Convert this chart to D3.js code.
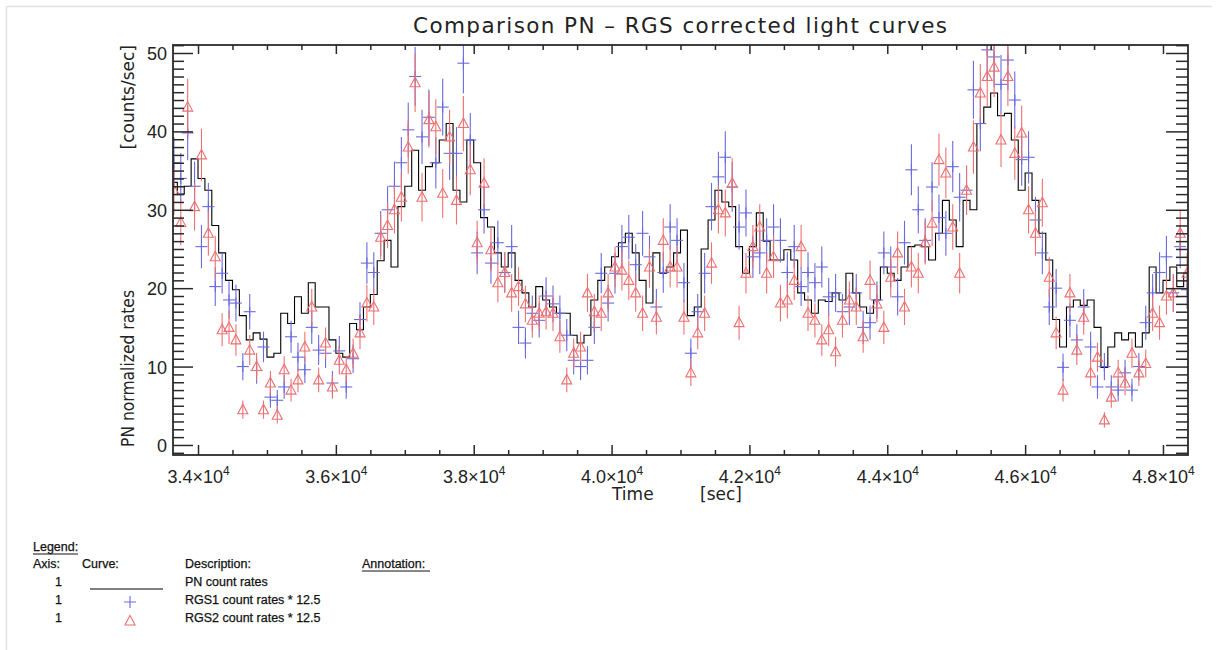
<!DOCTYPE html>
<html>
<head>
<meta charset="utf-8">
<script src="https://cdn.jsdelivr.net/npm/d3@7"></script>
<style>
  body { margin: 0; background: #fff; }
  svg { display: block; }
</style>
</head>
<body>
<svg id="chart"></svg>
<script>
// Light curves, 100 s bins starting at t = 33650 s
const T_START = 33650;
const BIN = 100;

// PN count rates (black line)
const pnRate = [
  33.5, 32, 33, 36.5, 34, 32.5, 28, 24.5, 21, 19.8,
  16.5, 13.4, 14.3, 13.5, 11.2, 11.7, 16.8, 15.5, 18.9, 16.8,
  20.7, 17.6, 17.6, 13.4, 11.7, 11.2, 15.5, 14.7, 17.6, 19.2,
  23.5, 26.1, 22.7, 30.4, 33, 37.6, 32.5, 35.5, 36, 38.9,
  41, 32.5, 31, 38.9, 36, 29, 27.8, 24.5, 22.7, 24.5,
  21, 19.4, 17.6, 20.2, 18.5, 17.6, 16.8, 16.8, 14, 13,
  14, 18.5, 21, 22.7, 24, 25.8, 27, 24.5, 21, 18.1,
  24.5, 21.9, 22.7, 24.5, 27.4, 16.5, 17.6, 25, 28.7, 32.5,
  31, 30.4, 25.3, 21.9, 25.3, 29.6, 26, 23.6, 23.6, 24.9,
  23.6, 19.4, 18.5, 16.8, 18.5, 18.3, 19.4, 18.5, 21.9, 19.4,
  17.6, 16.8, 18.5, 22.7, 21.9, 21, 22.7, 25.3, 25.5, 25.3,
  23.6, 27, 31.2, 28.7, 25.3, 31.2, 30, 41, 43.1, 44.9,
  42, 42.3, 38.9, 32.5, 34.7, 31.2, 27, 23.6, 16, 12.5,
  17.6, 18.5, 17.8, 18.5, 15, 9.9, 12.5, 14.3, 13.4, 14.3,
  12.5, 14.3, 22.7, 19.4, 21, 22.7, 20.2, 21.9
];

// RGS1 count rates * 12.5 (blue crosses)
const rgs1Rate = [
  36, 34, 39.8, 33, 25.3, 30.4, 20.2, 21.9, 18.5, 18.1,
  10, 17, 9.5, 12.5, 6.1, 5.7, 7.4, 13.8, 11.2, 9.6,
  15, 12.1, 11.7, 7.9, 12, 7.4, 11, 16, 23.2, 22,
  27, 30, 33, 36, 40.2, 47, 39.3, 41.8, 36, 43.1,
  37.2, 37.2, 48.7, 38.9, 24.5, 30, 23.2, 25.8, 22, 25.3,
  15, 13, 16.8, 15.9, 19, 18, 16.8, 14, 10.8, 10,
  10.8, 15, 21.9, 18.1, 21.9, 25.3, 26.5, 23, 27, 24,
  17.6, 22, 27.8, 26.1, 20.7, 11.7, 17, 21.9, 30.4, 34.2,
  36.7, 32.9, 27.8, 29.6, 24, 24.5, 26.1, 27.8, 26.1, 22,
  25.3, 20.2, 22, 20.7, 22.7, 18.9, 19.4, 17, 17.6, 19.4,
  15, 15.6, 18.5, 24.5, 22.7, 18.9, 25.8, 35.1, 30, 26.1,
  32.9, 29, 27, 35.5, 31.6, 32.5, 45.3, 41, 50.4, 49.5,
  46, 49.1, 44, 36.4, 36.7, 28.7, 24.5, 17.6, 20, 9.9,
  15.9, 13.4, 17.6, 12.5, 7.4, 10, 7.4, 7, 9.2, 7,
  10, 15.6, 19.4, 22, 24, 19.4, 25.3, 19.8
];

// RGS2 count rates * 12.5 (red triangles)
const rgs2Rate = [
  32.5, 28.4, 43.1, 30.4, 37, 27, 24, 14.7, 15, 13.4,
  4.5, 12.1, 10, 4.5, 7.9, 3.8, 9.6, 7.0, 8.3, 12.5,
  17.6, 8.3, 13, 7.4, 10.8, 9.6, 11.7, 14.3, 18.1, 17.6,
  26.5, 28, 30, 31.6, 38, 46.2, 31.6, 41.5, 40.6, 32.1,
  39.3, 31.2, 41, 35.1, 25.8, 33.4, 24.9, 20.7, 22, 19.4,
  20.2, 18, 15.9, 16.8, 17, 16.8, 13.8, 8.3, 11.7, 12.5,
  19.4, 17, 16.8, 19.4, 22.7, 22.3, 21, 19.4, 16.8, 22.7,
  16.3, 26.1, 22.7, 22.7, 16.3, 9.2, 14.3, 16.8, 23.2, 30,
  29.6, 33.4, 15.6, 21.9, 25.3, 27.8, 21.9, 24, 18.1, 18.5,
  21, 25.3, 16.8, 15.9, 13.4, 14.7, 11.9, 15.9, 18.5, 17.6,
  13.8, 21, 18, 15, 21.4, 24.5, 17.6, 22.7, 21.9, 25.8,
  28.3, 36.4, 34.7, 27.8, 21.9, 32.5, 38, 44.9, 47, 48.2,
  38.9, 47, 37.2, 39.8, 30, 27, 30.9, 21.4, 14.3, 7,
  19.4, 12.1, 16.3, 9.2, 11.2, 3.2, 6.1, 9.2, 7.9, 11.7,
  9.2, 10.4, 16.8, 15.6, 19, 19.4, 27, 21.9
];

// Poisson-like 1-sigma error factor for the RGS points
const RGS_ERR_K = 0.55;

const xMajorTicks = [34000, 36000, 38000, 40000, 42000, 44000, 46000, 48000];
const xTickMantissa = ['3.4', '3.6', '3.8', '4.0', '4.2', '4.4', '4.6', '4.8'];
const yMajorTicks = [0, 10, 20, 30, 40, 50];

const legendRows = [
  { axis: '1', kind: 'line', text: 'PN count rates' },
  { axis: '1', kind: 'plus', text: 'RGS1 count rates * 12.5' },
  { axis: '1', kind: 'tri', text: 'RGS2 count rates * 12.5' },
];

const BLUE = '#6a6ade';
const RED = '#ee7070';
const AXIS = '#2a2a2a';

const W = 1217, H = 650;
const plotL = 173, plotR = 1188, plotT = 45, plotB = 455;

const svg = d3.select('#chart').attr('width', W).attr('height', H)
  .style('font-family', '"DejaVu Sans", sans-serif');

// faint page frame
svg.append('line').attr('x1', 7).attr('x2', 1212).attr('y1', 6.5).attr('y2', 6.5)
  .attr('stroke', '#e2e2e2').attr('stroke-width', 1.5);
svg.append('line').attr('x1', 6.5).attr('x2', 6.5).attr('y1', 6).attr('y2', H)
  .attr('stroke', '#e2e2e2').attr('stroke-width', 1.5);

const x = d3.scaleLinear().domain([33637, 48363]).range([plotL, plotR]);
const y = d3.scaleLinear().domain([-1.28, 51.02]).range([plotB, plotT]);

const times = pnRate.map((_, i) => T_START + i * BIN);

svg.append('clipPath').attr('id', 'plotClip')
  .append('rect').attr('x', plotL).attr('y', plotT)
  .attr('width', plotR - plotL).attr('height', plotB - plotT);

const plot = svg.append('g').attr('clip-path', 'url(#plotClip)');

// PN line (histogram steps)
plot.append('path')
  .datum(pnRate)
  .attr('fill', 'none').attr('stroke', '#000').attr('stroke-width', 1.1)
  .attr('d', d3.line().x((d, i) => x(times[i])).y(d => y(d)).curve(d3.curveStep));

// RGS1 crosses with error bars
const g1 = plot.append('g').attr('stroke', BLUE).attr('stroke-width', 1.1).attr('fill', 'none');
rgs1Rate.forEach((v, i) => {
  const cx = x(times[i]), cy = y(v), e = RGS_ERR_K * Math.sqrt(v);
  g1.append('line').attr('x1', cx).attr('x2', cx).attr('y1', y(v - e)).attr('y2', y(v + e));
  g1.append('line').attr('x1', cx).attr('x2', cx).attr('y1', cy - 5.5).attr('y2', cy + 5.5);
  g1.append('line').attr('x1', cx - 6).attr('x2', cx + 6).attr('y1', cy).attr('y2', cy);
});

// RGS2 triangles with error bars
const triPath = (cx, cy) => `M${cx - 5},${cy + 4}L${cx + 5},${cy + 4}L${cx},${cy - 5.5}Z`;
const g2 = plot.append('g').attr('stroke', RED).attr('stroke-width', 1.1).attr('fill', 'none');
rgs2Rate.forEach((v, i) => {
  const cx = x(times[i]), cy = y(v), e = RGS_ERR_K * Math.sqrt(v);
  g2.append('line').attr('x1', cx).attr('x2', cx).attr('y1', y(v - e)).attr('y2', y(v + e));
  g2.append('path').attr('d', triPath(cx, cy));
});

// Axes
const yMinor = d3.range(-1, 52).filter(v => v % 10 !== 0);
const xMinor = d3.range(34000, 48001, 500).filter(v => v % 2000 !== 0);

function styleAxis(sel) {
  sel.select('.domain').remove();
  sel.selectAll('.tick line').attr('stroke', AXIS).attr('stroke-width', 1.5);
}

svg.append('g').attr('transform', `translate(${plotL},0)`)
  .call(d3.axisLeft(y).tickValues(yMinor).tickSizeInner(-11).tickSizeOuter(0).tickFormat(''))
  .call(styleAxis);
svg.append('g').attr('transform', `translate(${plotL},0)`)
  .call(d3.axisLeft(y).tickValues(yMajorTicks).tickSizeInner(-20).tickSizeOuter(0).tickPadding(6))
  .call(styleAxis)
  .selectAll('text').attr('font-size', 18).attr('fill', '#222').attr('dy', '0.36em');

svg.append('g').attr('transform', `translate(${plotR},0)`)
  .call(d3.axisRight(y).tickValues(yMinor).tickSizeInner(-12).tickSizeOuter(0).tickFormat(''))
  .call(styleAxis);
svg.append('g').attr('transform', `translate(${plotR},0)`)
  .call(d3.axisRight(y).tickValues(yMajorTicks).tickSizeInner(-22).tickSizeOuter(0).tickFormat(''))
  .call(styleAxis);

svg.append('g').attr('transform', `translate(0,${plotB})`)
  .call(d3.axisBottom(x).tickValues(xMinor).tickSizeInner(-5).tickSizeOuter(0).tickFormat(''))
  .call(styleAxis);
const xAx = svg.append('g').attr('transform', `translate(0,${plotB})`)
  .call(d3.axisBottom(x).tickValues(xMajorTicks).tickSizeInner(-10).tickSizeOuter(0).tickFormat(''))
  .call(styleAxis);
xAx.selectAll('.tick').each(function (d, i) {
  const t = d3.select(this).select('text')
    .attr('y', 28).attr('dy', 0).attr('font-size', 18).attr('fill', '#222')
    .attr('text-anchor', 'middle');
  t.append('tspan').text(xTickMantissa[i] + '×10');
  t.append('tspan').attr('dy', -8).attr('font-size', 12).text('4');
});

svg.append('g').attr('transform', `translate(0,${plotT})`)
  .call(d3.axisTop(x).tickValues(xMinor).tickSizeInner(-5).tickSizeOuter(0).tickFormat(''))
  .call(styleAxis);
svg.append('g').attr('transform', `translate(0,${plotT})`)
  .call(d3.axisTop(x).tickValues(xMajorTicks).tickSizeInner(-9).tickSizeOuter(0).tickFormat(''))
  .call(styleAxis);

// frame
svg.append('rect').attr('x', plotL).attr('y', plotT)
  .attr('width', plotR - plotL).attr('height', plotB - plotT)
  .attr('fill', 'none').attr('stroke', AXIS).attr('stroke-width', 1.8);

// Titles
svg.append('text').attr('x', 680).attr('y', 33).attr('text-anchor', 'middle')
  .attr('font-size', 21.5).attr('fill', '#222')
  .attr('textLength', 534).attr('lengthAdjust', 'spacing')
  .text('Comparison PN – RGS corrected light curves');

svg.append('text').attr('x', 612).attr('y', 500).attr('font-size', 17).attr('fill', '#222')
  .text('Time');
svg.append('text').attr('x', 700).attr('y', 500).attr('font-size', 17).attr('fill', '#222')
  .text('[sec]');

svg.append('text').attr('transform', `translate(134,447) rotate(-90)`)
  .attr('font-size', 17).attr('fill', '#222')
  .attr('textLength', 157).attr('lengthAdjust', 'spacingAndGlyphs')
  .text('PN normalized rates');
svg.append('text').attr('transform', `translate(134,45) rotate(-90)`)
  .attr('text-anchor', 'end').attr('font-size', 17).attr('fill', '#222')
  .text('[counts/sec]');

// Legend block
const lg = svg.append('g').attr('font-family', '"Liberation Sans", Arial, sans-serif')
  .attr('font-size', 12.5).attr('fill', '#111')
  .attr('stroke', '#111').attr('stroke-width', 0.25);
lg.append('text').attr('x', 33).attr('y', 551).text('Legend:');
lg.append('line').attr('x1', 33).attr('x2', 78).attr('y1', 554).attr('y2', 554)
  .attr('stroke', '#111').attr('stroke-width', 1);
lg.append('text').attr('x', 33).attr('y', 568).text('Axis:');
lg.append('text').attr('x', 82).attr('y', 568).text('Curve:');
lg.append('text').attr('x', 185).attr('y', 568).text('Description:');
lg.append('text').attr('x', 362).attr('y', 568).text('Annotation:');
lg.append('line').attr('x1', 362).attr('x2', 430).attr('y1', 571).attr('y2', 571)
  .attr('stroke', '#111').attr('stroke-width', 1);

legendRows.forEach((r, i) => {
  const by = 586 + i * 18;
  lg.append('text').attr('x', 55).attr('y', by).text(r.axis);
  lg.append('text').attr('x', 185).attr('y', by).text(r.text);
  if (r.kind === 'line') {
    lg.append('line').attr('x1', 90).attr('x2', 163).attr('y1', by + 3).attr('y2', by + 3)
      .attr('stroke', '#000').attr('stroke-width', 1.2);
  } else if (r.kind === 'plus') {
    lg.append('path').attr('d', `M${124},${by - 2}H${136}M${130},${by - 8}V${by + 4}`)
      .attr('stroke', BLUE).attr('stroke-width', 1.1).attr('fill', 'none');
  } else {
    lg.append('path').attr('d', triPath(130, by - 1))
      .attr('stroke', RED).attr('stroke-width', 1.1).attr('fill', 'none');
  }
});
</script>
</body>
</html>
